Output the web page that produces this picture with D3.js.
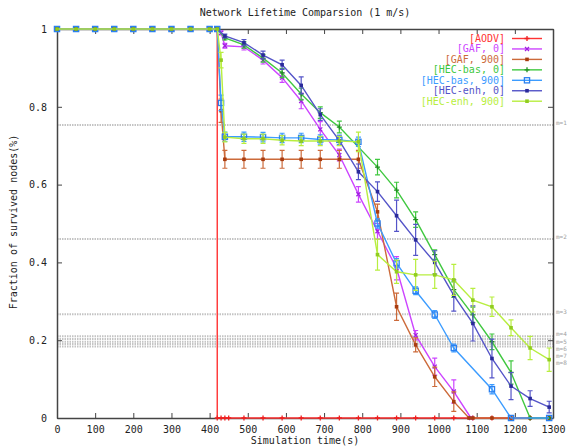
<!DOCTYPE html>
<html><head><meta charset="utf-8">
<script src="https://cdn.jsdelivr.net/npm/d3@7/dist/d3.min.js"></script>
<style>
body{margin:0;background:#fff}
svg{display:block}
text{font-family:"DejaVu Sans Mono","Liberation Mono",monospace}
</style>
</head><body>
<svg id="chart" width="570" height="448"></svg>
<script>
const title = "Network Lifetime Comparsion (1 m/s)";
const xLabel = "Simulation time(s)";
const yLabel = "Fraction of survived nodes(%)";
const xTicks = [0,100,200,300,400,500,600,700,800,900,1000,1100,1200,1300];
const xTickLabels = ["0","100","200","300","400","500","600","700","800","900","1000","1100","1200","1300"];
const yTicks = [0,0.2,0.4,0.6,0.8,1];
const yTickLabels = ["0","0.2","0.4","0.6","0.8","1"];
const mLevels = [0.753,0.46,0.267,0.21,0.203,0.196,0.19,0.184];
const mLabels = ["m=1","m=2","m=3","m=4","m=5","m=6","m=7","m=8"];
const seriesNames = ["[AODV]","[GAF, 0]","[GAF, 900]","[HEC-bas, 0]","[HEC-bas, 900]","[HEC-enh, 0]","[HEC-enh, 900]"];

// [time, fraction, error]
const aodv = [[0,1,0],[50,1,0],[100,1,0],[150,1,0],[200,1,0],[250,1,0],[300,1,0],[350,1,0],[400,1,0],[420,1,0],
  [420,0,0],[430,0,0],[440,0,0],[450,0,0],[490,0,0],[540,0,0],[590,0,0],[640,0,0],[690,0,0],[740,0,0],[790,0,0],
  [840,0,0],[890,0,0],[940,0,0],[990,0,0],[1040,0,0],[1090,0,0],[1140,0,0],[1190,0,0],[1240,0,0],[1290,0,0]];
const gaf0 = [[0,1,0],[50,1,0],[100,1,0],[150,1,0],[200,1,0],[250,1,0],[300,1,0],[350,1,0],[400,1,0],[420,1,0],
  [430,0.99,0.005],[440,0.957,0.006],[490,0.954,0.008],[540,0.92,0.01],[590,0.875,0.012],[640,0.815,0.02],
  [690,0.742,0.02],[740,0.676,0.015],[790,0.575,0.02],[840,0.48,0.02],[890,0.385,0.03],[940,0.213,0.012],
  [990,0.132,0.022],[1040,0.068,0.03],[1085,0,0]];
const gaf900 = [[0,1,0],[50,1,0],[100,1,0],[150,1,0],[200,1,0],[250,1,0],[300,1,0],[350,1,0],[400,1,0],[420,1,0],
  [430,0.79,0.03],[440,0.665,0.023],[490,0.665,0.023],[540,0.665,0.023],[590,0.665,0.023],[640,0.665,0.023],
  [690,0.665,0.023],[740,0.665,0.023],[790,0.665,0.023],[840,0.53,0.02],[890,0.286,0.035],[940,0.188,0.018],
  [990,0.106,0.025],[1040,0.042,0.025],[1080,0,0],[1090,0,0],[1140,0,0],[1190,0,0],[1240,0,0],[1290,0,0]];
const hecBas0 = [[0,1,0],[50,1,0],[100,1,0],[150,1,0],[200,1,0],[250,1,0],[300,1,0],[350,1,0],[400,1,0],[420,1,0],
  [440,0.977,0.005],[490,0.959,0.008],[540,0.925,0.01],[590,0.887,0.012],[640,0.833,0.015],[690,0.785,0.015],
  [740,0.748,0.015],[840,0.645,0.02],[890,0.586,0.02],[940,0.51,0.02],[990,0.42,0.012],[1040,0.33,0.02],
  [1090,0.265,0.02],[1140,0.196,0.02],[1190,0.117,0.03],[1240,0,0],[1290,0,0]];
const hecBas900 = [[0,1,0],[50,1,0],[100,1,0],[150,1,0],[200,1,0],[250,1,0],[300,1,0],[350,1,0],[400,1,0],[420,1,0],
  [430,0.81,0.02],[440,0.723,0.012],[490,0.723,0.012],[540,0.722,0.012],[590,0.72,0.012],[640,0.72,0.012],
  [690,0.716,0.012],[740,0.715,0.012],[790,0.71,0.012],[840,0.5,0.012],[890,0.398,0.012],[940,0.327,0.01],
  [990,0.266,0.01],[1040,0.18,0.01],[1140,0.074,0.012],[1190,0,0],[1290,0,0]];
const hecEnh0 = [[0,1,0],[50,1,0],[100,1,0],[150,1,0],[200,1,0],[250,1,0],[300,1,0],[350,1,0],[400,1,0],[420,1,0],
  [440,0.982,0.005],[490,0.965,0.008],[540,0.933,0.01],[590,0.908,0.012],[640,0.855,0.022],[690,0.78,0.015],
  [740,0.713,0.012],[790,0.633,0.02],[840,0.582,0.025],[890,0.52,0.04],[940,0.458,0.04],[990,0.4,0.03],
  [1040,0.315,0.04],[1090,0.243,0.045],[1140,0.153,0.05],[1190,0.082,0.035],[1240,0.05,0.02],[1290,0.028,0.015]];
const hecEnh900 = [[0,1,0],[50,1,0],[100,1,0],[150,1,0],[200,1,0],[250,1,0],[300,1,0],[350,1,0],[400,1,0],[420,1,0],
  [430,0.92,0.02],[440,0.722,0.012],[490,0.718,0.012],[540,0.718,0.012],[590,0.714,0.012],[640,0.712,0.012],
  [690,0.712,0.012],[740,0.712,0.012],[790,0.71,0.025],[840,0.42,0.04],[890,0.376,0.03],[940,0.368,0.04],
  [990,0.368,0.035],[1040,0.355,0.04],[1090,0.303,0.03],[1140,0.286,0.025],[1190,0.232,0.02],[1240,0.18,0.03],
  [1290,0.15,0.03]];

const seriesData = [aodv, gaf0, gaf900, hecBas0, hecBas900, hecEnh0, hecEnh900];
const colors = ["#ff3333","#cc44ff","#cc6a3a","#40c840","#3c9cff","#5454c8","#b8ee40"];
const markerColors = ["#ee2020","#a020e0","#a83c10","#209020","#2a80f0","#2a2a9a","#90cc20"];
const shapes = ["plus","cross","fsquare","plus","osquare","fsquare","fsquare"];

const svg = d3.select("#chart");
const L = 57, R = 553, T = 29, B = 418;
const x = d3.scaleLinear().domain([0,1300]).range([L,R]);
const y = d3.scaleLinear().domain([0,1]).range([B,T]);

// titles
svg.append("text").attr("x",305).attr("y",16).attr("text-anchor","middle")
  .attr("font-size",10).attr("fill","#222").text(title);
svg.append("text").attr("x",305).attr("y",444).attr("text-anchor","middle")
  .attr("font-size",10).attr("fill","#222").text(xLabel);
svg.append("text").attr("transform","translate(17,222) rotate(-90)").attr("text-anchor","middle")
  .attr("font-size",10).attr("fill","#222").text(yLabel);

// m-lines
const mg = svg.append("g");
mLevels.forEach((lv)=>{
  mg.append("line").attr("x1",L).attr("x2",R).attr("y1",y(lv)).attr("y2",y(lv))
    .attr("stroke","#c4c4c4").attr("stroke-width",2).attr("stroke-dasharray","1.5,1");
});
let prevY = -100;
mLevels.forEach((lv,i)=>{
  const ly = Math.max(y(lv) - 2, prevY + 7.2);
  prevY = ly;
  mg.append("text").attr("x",R+3).attr("y",ly).attr("dy","0.35em").attr("font-size",6)
    .attr("fill","#a0a0a0").text(mLabels[i]);
});

// axes
const axisColor = "#444";
const gx = svg.append("g").attr("transform",`translate(0,${B})`)
  .call(d3.axisBottom(x).tickValues(xTicks).tickSize(-5).tickPadding(8).tickSizeOuter(0)
    .tickFormat((d,i)=>xTickLabels[i]));
const gxt = svg.append("g").attr("transform",`translate(0,${T})`)
  .call(d3.axisTop(x).tickValues(xTicks).tickSize(-5).tickFormat("").tickSizeOuter(0));
const gy = svg.append("g").attr("transform",`translate(${L},0)`)
  .call(d3.axisLeft(y).tickValues(yTicks).tickSize(-5).tickPadding(10).tickSizeOuter(0)
    .tickFormat((d,i)=>yTickLabels[i]));
const gyr = svg.append("g").attr("transform",`translate(${R},0)`)
  .call(d3.axisRight(y).tickValues(yTicks).tickSize(-5).tickFormat("").tickSizeOuter(0));
[gx,gxt,gy,gyr].forEach(g=>{
  g.select(".domain").attr("stroke",axisColor).attr("stroke-width",1.5);
  g.selectAll(".tick line").attr("stroke",axisColor).attr("stroke-width",1);
  g.selectAll(".tick text").attr("font-family",'"DejaVu Sans Mono",monospace').attr("font-size",10).attr("fill","#222");
});

function marker(g, shape, cx, cy, col){
  if(shape==="plus"){
    g.append("path").attr("d",`M${cx-2.5},${cy}H${cx+2.5}M${cx},${cy-2.5}V${cy+2.5}`)
      .attr("stroke",col).attr("stroke-width",1.3).attr("fill","none");
  } else if(shape==="cross"){
    g.append("path").attr("d",`M${cx-2},${cy-2}L${cx+2},${cy+2}M${cx-2},${cy+2}L${cx+2},${cy-2}`)
      .attr("stroke",col).attr("stroke-width",1.3).attr("fill","none");
  } else if(shape==="fsquare"){
    g.append("rect").attr("x",cx-1.8).attr("y",cy-1.8).attr("width",3.6).attr("height",3.6).attr("fill",col);
  } else if(shape==="osquare"){
    g.append("rect").attr("x",cx-2.6).attr("y",cy-2.6).attr("width",5.2).attr("height",5.2)
      .attr("fill","none").attr("stroke",col).attr("stroke-width",1.3);
  }
}

const line = d3.line().x(d=>x(d[0])).y(d=>y(d[1]));
seriesData.forEach((data,si)=>{
  const g = svg.append("g");
  g.append("path").datum(data).attr("d",line).attr("fill","none")
    .attr("stroke",colors[si]).attr("stroke-width",1.4);
  data.forEach(d=>{
    if(d[2]>0){
      const cx = x(d[0]), y1 = y(d[1]-d[2]), y2 = y(d[1]+d[2]);
      g.append("path").attr("d",`M${cx},${y1}V${y2}M${cx-2.5},${y1}H${cx+2.5}M${cx-2.5},${y2}H${cx+2.5}`)
        .attr("stroke",colors[si]).attr("stroke-width",1.2).attr("fill","none");
    }
  });
  data.forEach(d=>marker(g, shapes[si], x(d[0]), y(d[1]), markerColors[si]));
});

// legend
const lg = svg.append("g");
seriesNames.forEach((n,i)=>{
  const ly = 38.5 + i*10.45;
  lg.append("text").attr("x",505).attr("y",ly).attr("dy","0.35em").attr("text-anchor","end")
    .attr("font-size",10).attr("fill",colors[i]).text(n);
  lg.append("line").attr("x1",512).attr("x2",542).attr("y1",ly).attr("y2",ly)
    .attr("stroke",colors[i]).attr("stroke-width",1.4);
  marker(lg, shapes[i], 527, ly, markerColors[i]);
});
</script>
</body></html>
